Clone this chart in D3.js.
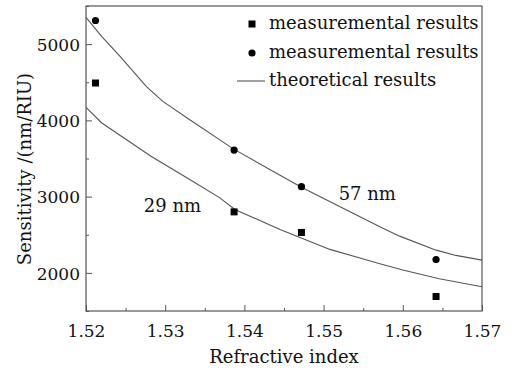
<!DOCTYPE html>
<html>
<head>
<meta charset="utf-8">
<script src="https://d3js.org/d3.v7.min.js"></script>
<style>
  body { margin: 0; background: #fff; }
  svg text { font-family: "DejaVu Serif", serif; fill: #111; }
</style>
</head>
<body>
<div id="chart"></div>
<script>
var width = 512, height = 371,
    margin = { top: 6, right: 30, bottom: 60, left: 86 };

// measured points (refractive index vs sensitivity)
var measIndex = [1.5212, 1.5387, 1.5472, 1.5642],
    meas29 = [4490, 2800, 2530, 1690],   // squares
    meas57 = [5310, 3610, 3130, 2175];   // circles

// theoretical curves
var theoryHiIndex = [1.5200, 1.5220, 1.5243, 1.5276, 1.5297, 1.5331, 1.5386, 1.5472, 1.5571, 1.5596, 1.5642, 1.5667, 1.5700],
    theoryHi = [5350, 5099, 4838, 4445, 4249, 4009, 3626, 3123, 2605, 2482, 2298, 2229, 2167],
    theoryLoIndex = [1.5200, 1.5220, 1.5282, 1.5331, 1.5369, 1.5388, 1.5445, 1.5508, 1.5571, 1.5600, 1.5646, 1.5700],
    theoryLo = [4170, 3966, 3529, 3224, 2984, 2831, 2569, 2308, 2120, 2037, 1924, 1819];

var xTicks = [1.52, 1.53, 1.54, 1.55, 1.56, 1.57],
    xMinor = [1.525, 1.535, 1.545, 1.555, 1.565],
    yTicks = [2000, 3000, 4000, 5000],
    yMinor = [1500, 2500, 3500, 4500, 5500];

var legendLabels = ["measuremental results", "measuremental results", "theoretical results"];
var notes = [ { text: "29 nm", n: 1.5273, s: 2792 }, { text: "57 nm", n: 1.5519, s: 2962 } ];

var svg = d3.select("#chart").append("svg")
    .attr("width", width).attr("height", height);

var x = d3.scaleLinear().domain([1.52, 1.57]).range([margin.left, width - margin.right]),
    y = d3.scaleLinear().domain([1500, 5500]).range([height - margin.bottom, margin.top]);

var axisColor = "#555";

// frame
svg.append("rect")
    .attr("x", x(1.52)).attr("y", y(5500))
    .attr("width", x(1.57) - x(1.52)).attr("height", y(1500) - y(5500))
    .attr("fill", "none").attr("stroke", axisColor).attr("stroke-width", 1.2);

// x axis (ticks pointing in)
var gx = svg.append("g").attr("transform", "translate(0," + y(1500) + ")");
gx.call(d3.axisBottom(x).tickValues(xTicks).tickSize(-6).tickFormat(d3.format(".2f")));
var gxm = svg.append("g").attr("transform", "translate(0," + y(1500) + ")");
gxm.call(d3.axisBottom(x).tickValues(xMinor).tickSize(-3).tickFormat(""));
svg.selectAll(".domain").remove();
gx.selectAll("line").attr("stroke", axisColor);
gxm.selectAll("line").attr("stroke", axisColor);
gx.selectAll("text").attr("y", 26).attr("dy", 0)
    .style("font-size", "17px").style("font-family", "DejaVu Serif").attr("fill", "#111");

// y axis (ticks pointing in)
var gy = svg.append("g").attr("transform", "translate(" + x(1.52) + ",0)");
gy.call(d3.axisLeft(y).tickValues(yTicks).tickSize(-6).tickFormat(d3.format("d")));
var gym = svg.append("g").attr("transform", "translate(" + x(1.52) + ",0)");
gym.call(d3.axisLeft(y).tickValues(yMinor).tickSize(-3).tickFormat(""));
svg.selectAll(".domain").remove();
gy.selectAll("line").attr("stroke", axisColor);
gym.selectAll("line").attr("stroke", axisColor);
gy.selectAll("text").attr("x", -6).attr("dy", "0.36em")
    .style("font-size", "17px").style("font-family", "DejaVu Serif").attr("fill", "#111");

// axis titles
svg.append("text")
    .attr("x", (x(1.52) + x(1.57)) / 2).attr("y", 363)
    .attr("text-anchor", "middle").style("font-size", "18px")
    .text("Refractive index");
svg.append("text")
    .attr("transform", "translate(31," + 169 + ") rotate(-90)")
    .attr("text-anchor", "middle").style("font-size", "18px")
    .text("Sensitivity /(nm/RIU)");

// theory lines
var line = d3.line().x(function (d) { return x(d[0]); }).y(function (d) { return y(d[1]); });
[d3.zip(theoryHiIndex, theoryHi), d3.zip(theoryLoIndex, theoryLo)].forEach(function (pts) {
    svg.append("path").datum(pts)
        .attr("d", line)
        .attr("fill", "none").attr("stroke", "#555").attr("stroke-width", 1.1);
});

// measured points
svg.selectAll("rect.sq").data(d3.zip(measIndex, meas29)).enter().append("rect")
    .attr("class", "sq")
    .attr("x", function (d) { return x(d[0]) - 3.5; })
    .attr("y", function (d) { return y(d[1]) - 3.5; })
    .attr("width", 7).attr("height", 7).attr("fill", "#000");
svg.selectAll("circle.ci").data(d3.zip(measIndex, meas57)).enter().append("circle")
    .attr("class", "ci")
    .attr("cx", function (d) { return x(d[0]); })
    .attr("cy", function (d) { return y(d[1]); })
    .attr("r", 3.6).attr("fill", "#000");

// annotations
svg.selectAll("text.note").data(notes).enter().append("text")
    .attr("class", "note")
    .attr("x", function (d) { return x(d.n); })
    .attr("y", function (d) { return y(d.s); })
    .style("font-size", "18px")
    .text(function (d) { return d.text; });

// legend
var lg = svg.append("g");
lg.append("rect").attr("x", 248.5).attr("y", 20.5).attr("width", 7).attr("height", 7).attr("fill", "#000");
lg.append("circle").attr("cx", 252).attr("cy", 53).attr("r", 3.6).attr("fill", "#000");
lg.append("line").attr("x1", 237).attr("x2", 265).attr("y1", 81).attr("y2", 81)
    .attr("stroke", "#555").attr("stroke-width", 1.1);
lg.selectAll("text").data(legendLabels).enter().append("text")
    .attr("x", 269)
    .attr("y", function (d, i) { return 29 + i * 28.7; })
    .style("font-size", "18px")
    .text(function (d) { return d; });
</script>
</body>
</html>
